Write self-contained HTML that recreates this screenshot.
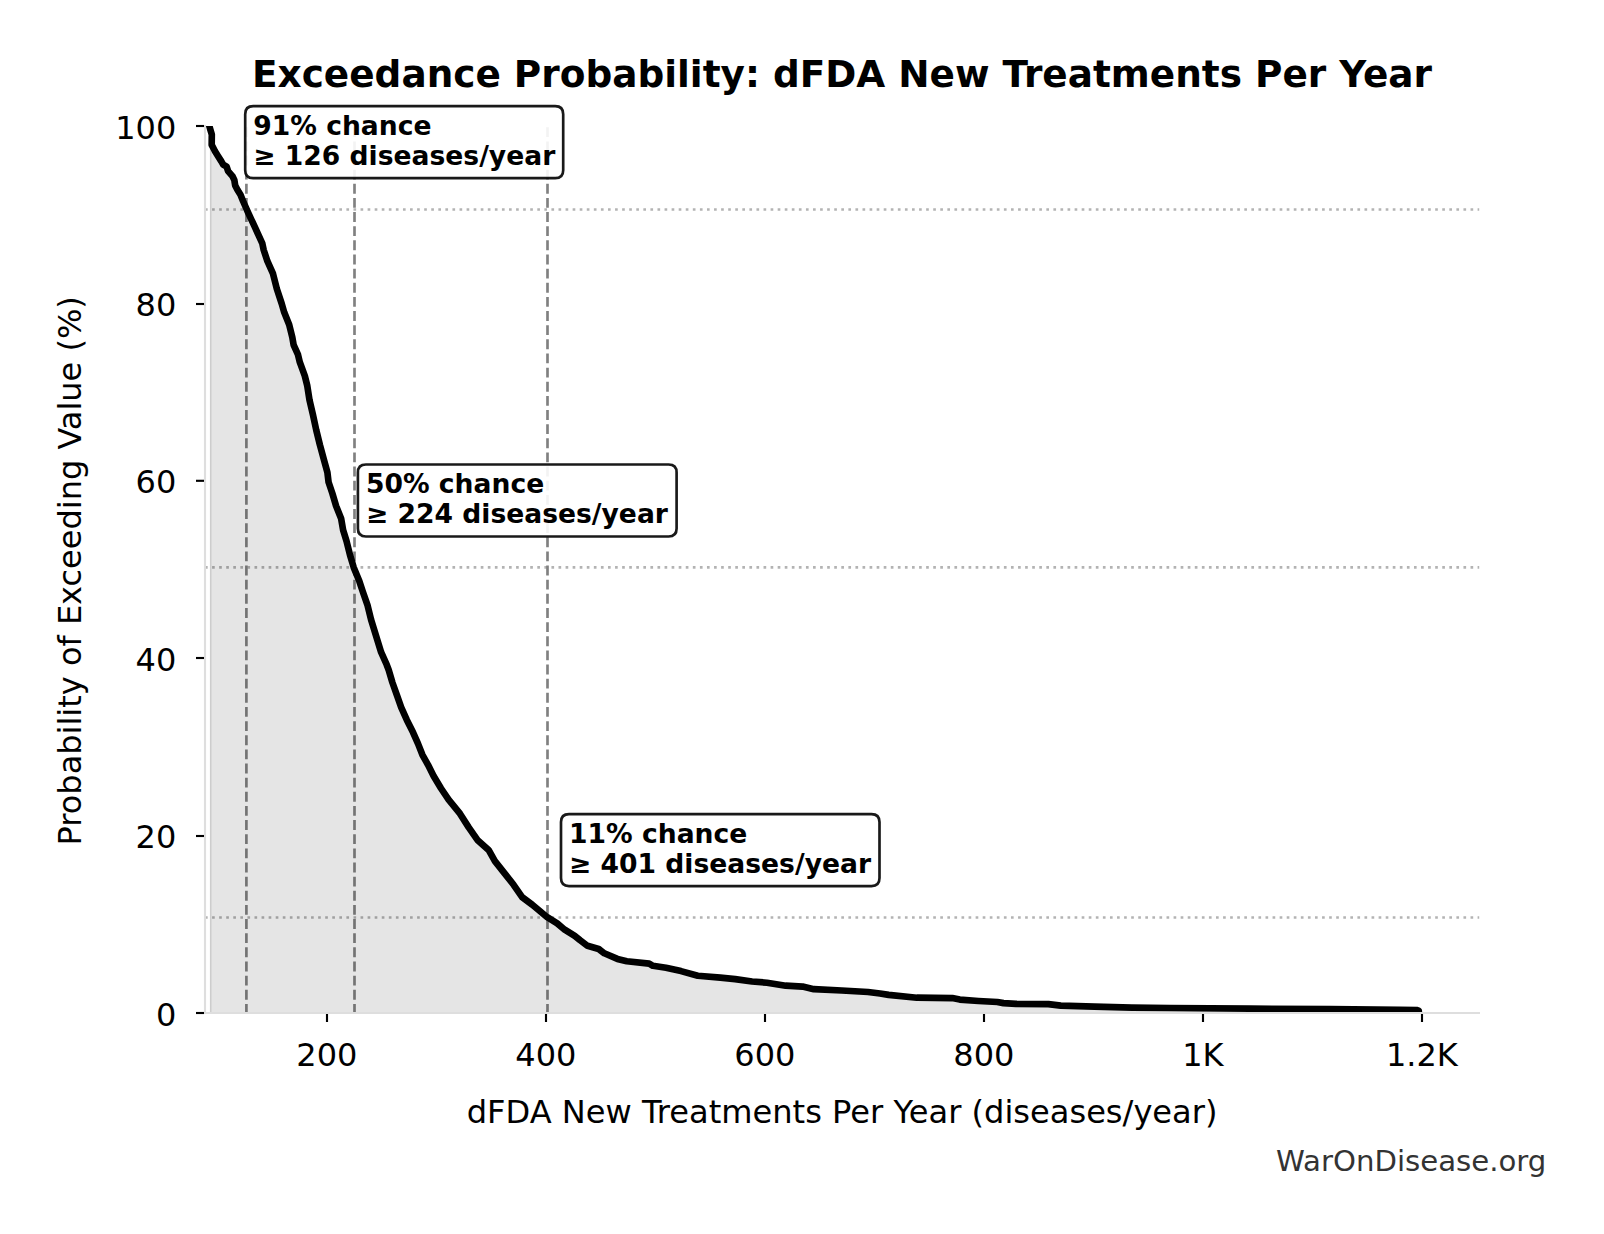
<!DOCTYPE html>
<html lang="en"><head><meta charset="utf-8"><title>Exceedance Probability: dFDA New Treatments Per Year</title>
<style>
html,body{margin:0;padding:0;background:#fff;}
body{width:1604px;height:1234px;overflow:hidden;font-family:'DejaVu Sans','Liberation Sans',sans-serif;}
svg{display:block;}
text{font-family:'DejaVu Sans','Liberation Sans',sans-serif;fill:#000;}
.tk{font-size:32px;}
.lb{font-size:32.08px;}
.an{font-size:26.58px;font-weight:bold;}
</style></head><body>
<svg width="1604" height="1234" viewBox="0 0 1604 1234">
<rect width="1604" height="1234" fill="#fff"/>
<defs><clipPath id="ax"><rect x="205" y="126" width="1274.2" height="887"/></clipPath></defs>

<g clip-path="url(#ax)">
<line x1="246.4" y1="1013.8" x2="246.4" y2="126" stroke="#808080" stroke-width="2.67" stroke-dasharray="9.87 4.27"/>
<line x1="354.5" y1="1013.8" x2="354.5" y2="126" stroke="#808080" stroke-width="2.67" stroke-dasharray="9.87 4.27"/>
<line x1="547.5" y1="1013.8" x2="547.5" y2="126" stroke="#808080" stroke-width="2.67" stroke-dasharray="9.87 4.27"/>
<line x1="205" y1="209.5" x2="1480" y2="209.5" stroke="#808080" stroke-opacity="0.6" stroke-width="2.67" stroke-dasharray="2.67 4.4"/>
<line x1="205" y1="567.4" x2="1480" y2="567.4" stroke="#808080" stroke-opacity="0.6" stroke-width="2.67" stroke-dasharray="2.67 4.4"/>
<line x1="205" y1="917.5" x2="1480" y2="917.5" stroke="#808080" stroke-opacity="0.6" stroke-width="2.67" stroke-dasharray="2.67 4.4"/>
<path d="M209.9,1013 L209.9,126 L207.5,120.0 L211.8,134.5 L211.7,144.9 L215.0,151.2 L218.1,156.2 L221.2,161.1 L223.2,164.6 L226.6,166.6 L228.1,171.1 L232.4,176.1 L234.3,179.9 L235.2,185.5 L237.4,189.8 L240.5,194.8 L243.0,201.0 L248.0,212.3 L254.9,227.2 L262.3,243.4 L263.7,250.0 L267.4,261.2 L273.0,273.7 L276.8,288.7 L281.7,303.6 L284.2,312.3 L289.2,324.8 L292.3,337.3 L293.6,344.8 L298.0,354.7 L299.8,362.2 L304.8,375.9 L307.3,385.9 L309.5,400.0 L313.0,414.9 L316.2,429.9 L319.9,444.9 L324.3,461.1 L327.4,472.3 L328.6,482.3 L332.4,493.5 L336.1,506.0 L341.1,518.4 L343.1,530.0 L346.5,541.0 L350.0,555.0 L353.7,567.4 L359.3,581.1 L363.0,592.3 L367.4,604.8 L371.1,619.8 L376.1,636.0 L381.1,652.2 L386.7,664.7 L388.7,670.0 L392.4,682.5 L396.8,694.9 L401.2,707.4 L406.8,719.9 L413.0,732.3 L418.0,743.6 L422.4,754.8 L428.0,764.8 L433.6,776.0 L441.1,788.5 L448.6,799.7 L460.0,813.7 L468.7,827.4 L477.4,839.9 L488.6,849.9 L494.9,861.1 L504.8,873.6 L513.6,884.8 L522.3,897.3 L532.3,904.7 L539.8,911.0 L547.2,917.2 L557.2,923.4 L564.7,929.7 L574.7,935.9 L580.0,940.2 L587.5,945.8 L598.7,949.0 L604.3,953.3 L617.4,958.9 L626.8,961.2 L649.2,963.6 L652.9,965.8 L666.0,967.7 L681.0,971.1 L697.8,975.7 L720.3,977.6 L735.2,979.1 L752.1,981.5 L767.0,982.7 L785.7,985.7 L802.6,986.6 L813.8,989.2 L841.8,990.5 L868.0,992.0 L880.0,993.5 L888.7,994.9 L916.8,997.7 L952.3,998.1 L959.8,999.6 L978.5,1001.0 L997.3,1002.0 L1003.5,1003.1 L1016.0,1003.9 L1048.4,1004.1 L1060.8,1005.6 L1094.4,1006.7 L1131.8,1007.6 L1170.0,1008.0 L1250.0,1008.6 L1330.0,1009.2 L1400.0,1009.8 L1417.5,1010.2 L1418.8,1010.8 L1418.8,1016.0 L1418.8,1013 Z" fill="#000" fill-opacity="0.1"/>
<rect x="209.9" y="135" width="1.6" height="878" fill="#000" fill-opacity="0.1"/>
<path d="M207.5,120.0 L211.8,134.5 L211.7,144.9 L215.0,151.2 L218.1,156.2 L221.2,161.1 L223.2,164.6 L226.6,166.6 L228.1,171.1 L232.4,176.1 L234.3,179.9 L235.2,185.5 L237.4,189.8 L240.5,194.8 L243.0,201.0 L248.0,212.3 L254.9,227.2 L262.3,243.4 L263.7,250.0 L267.4,261.2 L273.0,273.7 L276.8,288.7 L281.7,303.6 L284.2,312.3 L289.2,324.8 L292.3,337.3 L293.6,344.8 L298.0,354.7 L299.8,362.2 L304.8,375.9 L307.3,385.9 L309.5,400.0 L313.0,414.9 L316.2,429.9 L319.9,444.9 L324.3,461.1 L327.4,472.3 L328.6,482.3 L332.4,493.5 L336.1,506.0 L341.1,518.4 L343.1,530.0 L346.5,541.0 L350.0,555.0 L353.7,567.4 L359.3,581.1 L363.0,592.3 L367.4,604.8 L371.1,619.8 L376.1,636.0 L381.1,652.2 L386.7,664.7 L388.7,670.0 L392.4,682.5 L396.8,694.9 L401.2,707.4 L406.8,719.9 L413.0,732.3 L418.0,743.6 L422.4,754.8 L428.0,764.8 L433.6,776.0 L441.1,788.5 L448.6,799.7 L460.0,813.7 L468.7,827.4 L477.4,839.9 L488.6,849.9 L494.9,861.1 L504.8,873.6 L513.6,884.8 L522.3,897.3 L532.3,904.7 L539.8,911.0 L547.2,917.2 L557.2,923.4 L564.7,929.7 L574.7,935.9 L580.0,940.2 L587.5,945.8 L598.7,949.0 L604.3,953.3 L617.4,958.9 L626.8,961.2 L649.2,963.6 L652.9,965.8 L666.0,967.7 L681.0,971.1 L697.8,975.7 L720.3,977.6 L735.2,979.1 L752.1,981.5 L767.0,982.7 L785.7,985.7 L802.6,986.6 L813.8,989.2 L841.8,990.5 L868.0,992.0 L880.0,993.5 L888.7,994.9 L916.8,997.7 L952.3,998.1 L959.8,999.6 L978.5,1001.0 L997.3,1002.0 L1003.5,1003.1 L1016.0,1003.9 L1048.4,1004.1 L1060.8,1005.6 L1094.4,1006.7 L1131.8,1007.6 L1170.0,1008.0 L1250.0,1008.6 L1330.0,1009.2 L1400.0,1009.8 L1417.5,1010.2 L1418.8,1010.8 L1418.8,1016.0" fill="none" stroke="#000" stroke-width="6.67" stroke-linejoin="round" stroke-linecap="butt"/>
</g>
<line x1="205" y1="125" x2="205" y2="1014" stroke="#dedede" stroke-width="2.13"/>
<line x1="204" y1="1013" x2="1480" y2="1013" stroke="#dedede" stroke-width="2.13"/>
<line x1="327" y1="1014" x2="327" y2="1022" stroke="#000" stroke-width="2.13"/>
<text class="tk" x="326.9" y="1065.8" text-anchor="middle">200</text>
<line x1="546" y1="1014" x2="546" y2="1022" stroke="#000" stroke-width="2.13"/>
<text class="tk" x="545.9" y="1065.8" text-anchor="middle">400</text>
<line x1="765" y1="1014" x2="765" y2="1022" stroke="#000" stroke-width="2.13"/>
<text class="tk" x="764.9" y="1065.8" text-anchor="middle">600</text>
<line x1="984" y1="1014" x2="984" y2="1022" stroke="#000" stroke-width="2.13"/>
<text class="tk" x="983.9" y="1065.8" text-anchor="middle">800</text>
<line x1="1203" y1="1014" x2="1203" y2="1022" stroke="#000" stroke-width="2.13"/>
<text class="tk" x="1202.9" y="1065.8" text-anchor="middle">1K</text>
<line x1="1422" y1="1014" x2="1422" y2="1022" stroke="#000" stroke-width="2.13"/>
<text class="tk" x="1421.9" y="1065.8" text-anchor="middle">1.2K</text>
<line x1="196" y1="1013" x2="204" y2="1013" stroke="#000" stroke-width="2.13"/>
<text class="tk" x="176.3" y="1026.2" text-anchor="end">0</text>
<line x1="196" y1="836" x2="204" y2="836" stroke="#000" stroke-width="2.13"/>
<text class="tk" x="176.3" y="847.6" text-anchor="end">20</text>
<line x1="196" y1="658" x2="204" y2="658" stroke="#000" stroke-width="2.13"/>
<text class="tk" x="176.3" y="670.6" text-anchor="end">40</text>
<line x1="196" y1="480.8" x2="204" y2="480.8" stroke="#000" stroke-width="2.13"/>
<text class="tk" x="176.3" y="492.6" text-anchor="end">60</text>
<line x1="196" y1="304" x2="204" y2="304" stroke="#000" stroke-width="2.13"/>
<text class="tk" x="176.3" y="315.6" text-anchor="end">80</text>
<line x1="196" y1="126" x2="204" y2="126" stroke="#000" stroke-width="2.13"/>
<text class="tk" x="176.3" y="138.6" text-anchor="end">100</text>
<path d="M253.2,106.2 L555.2,106.2 Q563.2,106.2 563.2,114.2 L563.2,170.2 Q563.2,178.2 555.2,178.2 L253.2,178.2 Q245.2,178.2 245.2,170.2 L245.2,114.2 Q245.2,106.2 253.2,106.2 Z" fill="#fff" fill-opacity="0.9" stroke="#000" stroke-opacity="0.9" stroke-width="2.67"/>
<text class="an" x="253.3" y="134.8">91% chance</text>
<text class="an" x="253.3" y="164.7">≥ 126 diseases/year</text>
<path d="M365.9,464.5 L668.6,464.5 Q676.6,464.5 676.6,472.5 L676.6,528.5 Q676.6,536.5 668.6,536.5 L365.9,536.5 Q357.9,536.5 357.9,528.5 L357.9,472.5 Q357.9,464.5 365.9,464.5 Z" fill="#fff" fill-opacity="0.9" stroke="#000" stroke-opacity="0.9" stroke-width="2.67"/>
<text class="an" x="366.0" y="493.1">50% chance</text>
<text class="an" x="366.0" y="523.0">≥ 224 diseases/year</text>
<path d="M569.0,814.1 L871.5,814.1 Q879.5,814.1 879.5,822.1 L879.5,878.1 Q879.5,886.1 871.5,886.1 L569.0,886.1 Q561.0,886.1 561.0,878.1 L561.0,822.1 Q561.0,814.1 569.0,814.1 Z" fill="#fff" fill-opacity="0.9" stroke="#000" stroke-opacity="0.9" stroke-width="2.67"/>
<text class="an" x="569.1" y="842.7">11% chance</text>
<text class="an" x="569.1" y="872.6">≥ 401 diseases/year</text>
<text x="842.0" y="86.7" text-anchor="middle" style="font-size:37.41px;font-weight:bold">Exceedance Probability: dFDA New Treatments Per Year</text>
<text class="lb" x="842.1" y="1123.3" text-anchor="middle">dFDA New Treatments Per Year (diseases/year)</text>
<text transform="translate(81,570.8) rotate(-90)" text-anchor="middle" style="font-size:32px">Probability of Exceeding Value (%)</text>
<text x="1546.4" y="1171" text-anchor="end" style="font-size:29.2px;fill:#333">WarOnDisease.org</text>
</svg></body></html>
